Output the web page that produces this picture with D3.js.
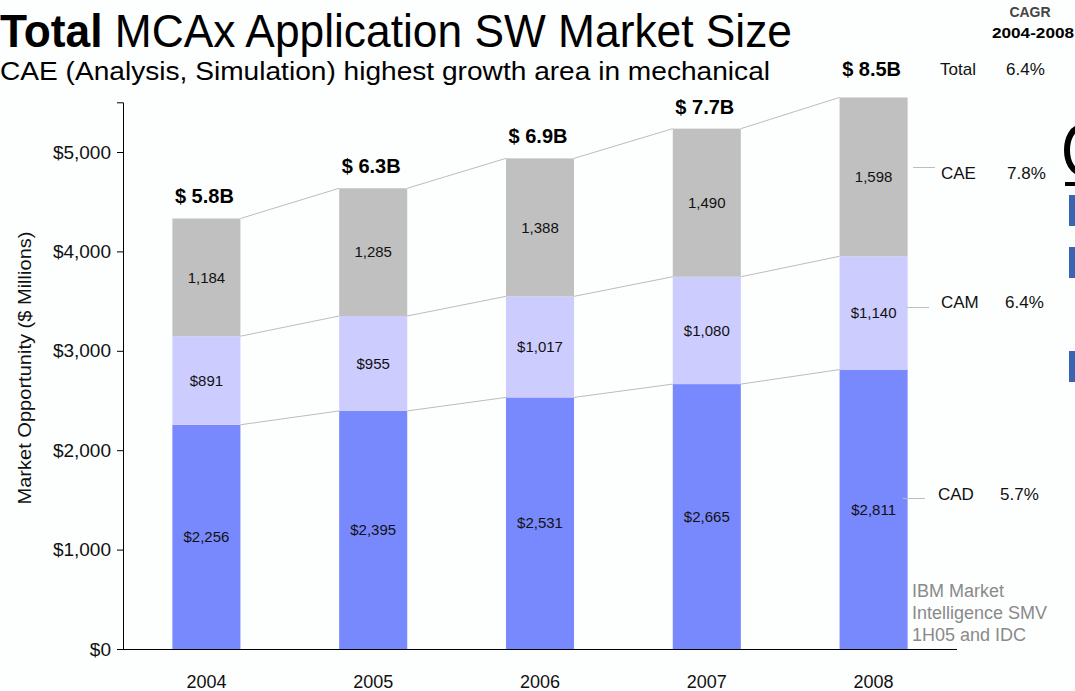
<!DOCTYPE html>
<html>
<head>
<meta charset="utf-8">
<script src="https://cdn.jsdelivr.net/npm/d3@7"></script>
<style>
  html, body { margin: 0; padding: 0; background: #fdfefe; }
  svg { display: block; }
  svg text { font-family: "Liberation Sans", Arial, sans-serif; }
</style>
</head>
<body>
<svg id="chart" width="1075" height="691"></svg>
<script>
// ---- data ----
const years = ["2004", "2005", "2006", "2007", "2008"];
const cad = [2256, 2395, 2531, 2665, 2811];
const cam = [891, 955, 1017, 1080, 1140];
const cae = [1184, 1285, 1388, 1490, 1598];
const seriesKeys = ["CAD", "CAM", "CAE"];
const cadLabels = ["$2,256", "$2,395", "$2,531", "$2,665", "$2,811"];
const camLabels = ["$891", "$955", "$1,017", "$1,080", "$1,140"];
const caeLabels = ["1,184", "1,285", "1,388", "1,490", "1,598"];
const totalLabels = ["$ 5.8B", "$ 6.3B", "$ 6.9B", "$ 7.7B", "$ 8.5B"];
const cagrNames = ["CAE", "CAM", "CAD"];
const cagrValues = ["7.8%", "6.4%", "5.7%"];
const cagrTotal = "6.4%";
const yTicks = [0, 1000, 2000, 3000, 4000, 5000];

const colors = { CAD: "#7888fd", CAM: "#ccccff", CAE: "#c0c0c0" };
const labelsByKey = { CAD: cadLabels, CAM: camLabels, CAE: caeLabels };

const rows = years.map((yr, i) => ({ year: yr, CAD: cad[i], CAM: cam[i], CAE: cae[i] }));

const svg = d3.select("#chart");

// ---- scales ----
const x = d3.scaleBand().domain(years).range([123, 957]).paddingInner(0.592).paddingOuter(0.296);
const y = d3.scaleLinear().domain([0, 5500]).range([649, 102.3]);
const bw = x.bandwidth();

const stacked = d3.stack().keys(seriesKeys)(rows);

// ---- connector lines ----
const conn = svg.append("g").attr("stroke", "#bcbcbc").attr("stroke-width", 1);
stacked.forEach(layer => {
  for (let i = 0; i < layer.length - 1; i++) {
    conn.append("line")
      .attr("x1", x(years[i]) + bw).attr("y1", y(layer[i][1]))
      .attr("x2", x(years[i + 1])).attr("y2", y(layer[i + 1][1]));
  }
});

// ---- bars ----
const g = svg.append("g");
stacked.forEach(layer => {
  const key = layer.key;
  g.selectAll(null).data(layer).join("rect")
    .attr("x", (d, i) => x(years[i]))
    .attr("y", d => y(d[1]))
    .attr("width", bw)
    .attr("height", d => y(d[0]) - y(d[1]))
    .attr("fill", colors[key]);
  g.selectAll(null).data(layer).join("text")
    .attr("x", (d, i) => x(years[i]) + bw / 2)
    .attr("y", d => (y(d[0]) + y(d[1])) / 2)
    .attr("dy", "0.35em")
    .attr("text-anchor", "middle")
    .attr("font-size", 15)
    .attr("fill", "#111")
    .text((d, i) => labelsByKey[key][i]);
});

// ---- total labels ----
const topLayer = stacked[stacked.length - 1];
svg.append("g").selectAll("text").data(totalLabels).join("text")
  .attr("x", (d, i) => x(years[i]) + bw / 2 - 2)
  .attr("y", (d, i) => i === totalLabels.length - 1 ? 76 : y(topLayer[i][1]) - 15)
  .attr("text-anchor", "middle")
  .attr("font-size", 20)
  .attr("font-weight", "bold")
  .attr("fill", "#000")
  .text(d => d);

// ---- axes ----
const yAxis = d3.axisLeft(y).tickValues(yTicks).tickSizeOuter(0).tickSize(6)
  .tickFormat(d => "$" + d3.format(",")(d));
const ya = svg.append("g").attr("transform", "translate(123,0)").call(yAxis);
ya.attr("font-family", null);
ya.selectAll("text").attr("font-size", 19).attr("fill", "#111").attr("x", -12);
ya.selectAll("line, path").attr("stroke", "#000");

const xAxis = d3.axisBottom(x).tickSize(0).tickSizeOuter(0);
const xa = svg.append("g").attr("transform", "translate(0,649)").call(xAxis);
xa.attr("font-family", null);
xa.select("path").attr("stroke", "#000").attr("d", "M123,0.5H957");
xa.selectAll("text").attr("font-size", 18).attr("fill", "#111").attr("y", 26);

// y axis title
svg.append("text")
  .attr("transform", "translate(31,368) rotate(-90)")
  .attr("text-anchor", "middle")
  .attr("font-size", 19)
  .attr("fill", "#111")
  .attr("textLength", 273).attr("lengthAdjust", "spacingAndGlyphs")
  .text("Market Opportunity ($ Millions)");

// ---- titles ----
const title = svg.append("text").attr("x", 0).attr("y", 47).attr("font-size", 46)
  .attr("fill", "#000").attr("textLength", 792).attr("lengthAdjust", "spacingAndGlyphs");
title.append("tspan").attr("font-weight", "bold").text("Total");
title.append("tspan").text(" MCAx Application SW Market Size");

svg.append("text").attr("x", 0).attr("y", 80).attr("font-size", 26)
  .attr("fill", "#000").attr("textLength", 770).attr("lengthAdjust", "spacingAndGlyphs")
  .text("CAE (Analysis, Simulation) highest growth area in mechanical");

// ---- CAGR header ----
svg.append("text").attr("x", 1030).attr("y", 17).attr("text-anchor", "middle")
  .attr("font-size", 14).attr("font-weight", "bold").attr("fill", "#444").text("CAGR");
svg.append("text").attr("x", 992).attr("y", 38)
  .attr("font-size", 15).attr("font-weight", "bold").attr("fill", "#000")
  .attr("textLength", 82).attr("lengthAdjust", "spacingAndGlyphs").text("2004-2008");

svg.append("text").attr("x", 940).attr("y", 75).attr("font-size", 17).attr("fill", "#111").text("Total");
svg.append("text").attr("x", 1006).attr("y", 75).attr("font-size", 17).attr("fill", "#111").text(cagrTotal);

// ---- right-side series labels ----
const lblY = [179, 308, 500];
const lineY = [167.5, 307.5, 498.5];
const lineX = [913, 907, 903];
const nameX = [941, 941, 938];
const valX = [1007, 1005, 1000];
cagrNames.forEach((n, i) => {
  svg.append("line").attr("x1", lineX[i]).attr("x2", lineX[i] + 22)
    .attr("y1", lineY[i]).attr("y2", lineY[i]).attr("stroke", "#bcbcbc");
  svg.append("text").attr("x", nameX[i]).attr("y", lblY[i]).attr("font-size", 17).attr("fill", "#111").text(n);
  svg.append("text").attr("x", valX[i]).attr("y", lblY[i]).attr("font-size", 17).attr("fill", "#111").text(cagrValues[i]);
});

// ---- source ----
const src = ["IBM Market", "Intelligence SMV", "1H05 and IDC"];
svg.append("g").selectAll("text").data(src).join("text")
  .attr("x", 912).attr("y", (d, i) => 597 + i * 22)
  .attr("font-size", 18).attr("fill", "#8a8a8a").text(d => d);

// ---- clipped slide fragments at right edge ----
svg.append("path").attr("d", "M1080,128 A13,22 0 0 0 1080,172")
  .attr("fill", "none").attr("stroke", "#000").attr("stroke-width", 6);
svg.append("rect").attr("x", 1065).attr("y", 182).attr("width", 12).attr("height", 4).attr("fill", "#000");
[195, 247, 351].forEach(v => {
  svg.append("rect").attr("x", 1069).attr("y", v).attr("width", 8).attr("height", 31).attr("fill", "#3a63b2");
});
</script>
</body>
</html>
